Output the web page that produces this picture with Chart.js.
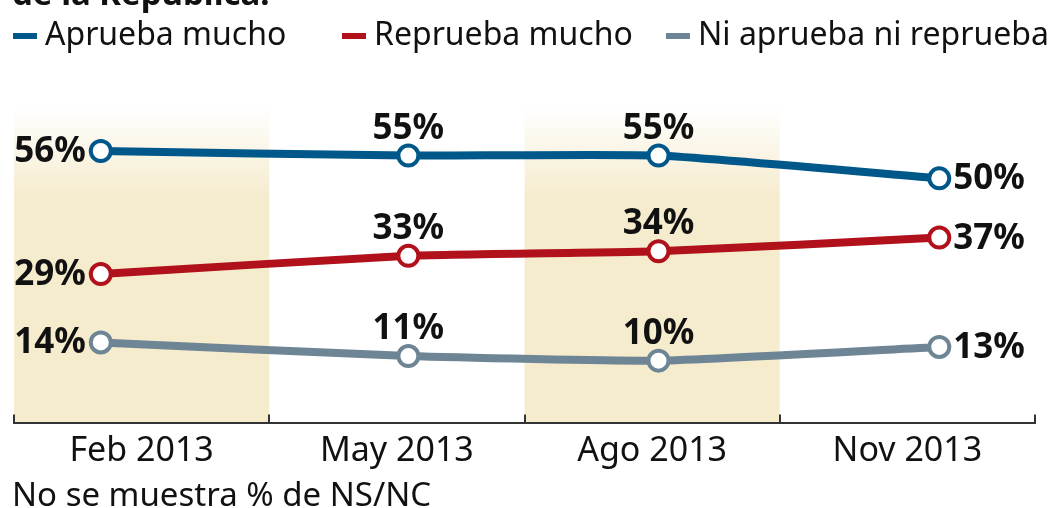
<!DOCTYPE html>
<html>
<head>
<meta charset="utf-8">
<script src="https://cdn.jsdelivr.net/npm/chart.js@4.4.0/dist/chart.umd.min.js"></script>
<style>
    body { margin: 0; background: #fff; font-family: "Noto Sans", sans-serif; color: #111; }
    #wrap { position: relative; width: 1051px; height: 508px; overflow: hidden; }
    #chart { position: absolute; left: 0; top: 0; }
    .title { position: absolute; left: 12px; top: -24px; font-weight: bold; font-size: 33px; line-height: 33px; white-space: nowrap; }
    .legend-item { position: absolute; top: 17px; font-size: 32px; line-height: 32px; white-space: nowrap; }
    .legend-item i { position: absolute; left: -32px; top: 16px; width: 24px; height: 6px; }
    .note { position: absolute; left: 12px; top: 477px; font-size: 33px; line-height: 33px; white-space: nowrap; }
</style>
</head>
<body>
<div id="wrap">
    <canvas id="chart" width="1051" height="508"></canvas>
    <div class="title">de la República.</div>
    <div class="legend-item" style="left:45px"><i style="background:#00578a"></i>Aprueba mucho</div>
    <div class="legend-item" style="left:374px"><i style="background:#b0111a"></i>Reprueba mucho</div>
    <div class="legend-item" style="left:698px"><i style="background:#6e8595"></i>Ni aprueba ni reprueba</div>
    <div class="note">No se muestra % de NS/NC</div>
</div>
<script>
// Periods shown on the x axis (each one is a band)
const periods = ['Feb 2013', 'May 2013', 'Ago 2013', 'Nov 2013'];
// Where each survey falls inside its period (in period units)
const surveyPos = [0.34, 1.545, 2.525, 3.625];

const apruebaMucho = [56, 55, 55, 50];
const repruebaMucho = [29, 33, 34, 37];
const niApruebaNiReprueba = [14, 11, 10, 13];

const seriesNames = ['Aprueba mucho', 'Reprueba mucho', 'Ni aprueba ni reprueba'];
const seriesColors = ['#00578a', '#b0111a', '#6e8595'];

function toPoints(values) {
    return values.map((v, i) => ({ x: surveyPos[i], y: v }));
}

// Shaded bands behind every other period, fading in from the top
const bandsPlugin = {
    id: 'bands',
    beforeDraw(chart) {
        const { ctx, chartArea, scales } = chart;
        const grad = ctx.createLinearGradient(0, chartArea.top, 0, chartArea.top + 95);
        grad.addColorStop(0, 'rgba(245,235,205,0)');
        grad.addColorStop(1, 'rgba(245,235,205,1)');
        ctx.save();
        ctx.fillStyle = grad;
        periods.forEach((p, i) => {
            if (i % 2 !== 0) return;
            const x0 = scales.x.getPixelForValue(i);
            const x1 = scales.x.getPixelForValue(i + 1);
            ctx.fillRect(x0, chartArea.top, x1 - x0, chartArea.bottom - chartArea.top);
        });
        ctx.restore();
    }
};

// Small tick marks at the period boundaries
const boundaryTicks = {
    id: 'boundaryTicks',
    afterDraw(chart) {
        const { ctx, chartArea, scales } = chart;
        ctx.save();
        ctx.strokeStyle = '#333';
        ctx.lineWidth = 2;
        for (let i = 0; i <= periods.length; i++) {
            const x = Math.round(scales.x.getPixelForValue(i));
            ctx.beginPath();
            ctx.moveTo(x, chartArea.bottom - 8);
            ctx.lineTo(x, chartArea.bottom);
            ctx.stroke();
        }
        ctx.restore();
    }
};

// Percent labels: first to the left, last to the right, others above
const valueLabels = {
    id: 'valueLabels',
    afterDatasetsDraw(chart) {
        const { ctx } = chart;
        ctx.save();
        ctx.font = 'bold 35px "Noto Sans"';
        ctx.fillStyle = '#111';
        ctx.textBaseline = 'middle';
        chart.data.datasets.forEach((ds, di) => {
            const meta = chart.getDatasetMeta(di);
            meta.data.forEach((pt, i) => {
                const text = ds.data[i].y + '%';
                if (i === 0) {
                    ctx.textAlign = 'right';
                    ctx.fillText(text, pt.x - 15, pt.y + 1);
                } else if (i === meta.data.length - 1) {
                    ctx.textAlign = 'left';
                    ctx.fillText(text, pt.x + 14, pt.y + 1);
                } else {
                    ctx.textAlign = 'center';
                    ctx.fillText(text, pt.x, pt.y - 27);
                }
            });
        });
        ctx.restore();
    }
};

const allSeries = [apruebaMucho, repruebaMucho, niApruebaNiReprueba];

new Chart(document.getElementById('chart'), {
    type: 'line',
    data: {
        datasets: allSeries.map((values, i) => ({
            label: seriesNames[i],
            data: toPoints(values),
            borderColor: seriesColors[i],
            borderWidth: 8,
            tension: 0.15,
            pointRadius: 10,
            pointBorderWidth: 4,
            pointBackgroundColor: '#fff',
            pointBorderColor: seriesColors[i],
            pointHoverRadius: 10
        }))
    },
    options: {
        responsive: false,
        animation: false,
        layout: { padding: { left: 12, right: 16, top: 105, bottom: 36 } },
        plugins: {
            legend: { display: false },
            tooltip: { enabled: false }
        },
        scales: {
            x: {
                type: 'linear',
                min: 0,
                max: periods.length,
                afterBuildTicks: scale => {
                    scale.ticks = periods.map((p, i) => ({ value: i + 0.5 }));
                },
                ticks: {
                    callback: (value, index) => periods[index],
                    font: { family: 'Noto Sans', size: 34, lineHeight: 1.1 },
                    color: '#111',
                    padding: 2,
                    autoSkip: false,
                    maxRotation: 0
                },
                grid: { display: false },
                border: { display: true, color: '#333', width: 2 }
            },
            y: {
                display: false,
                min: -3.6,
                max: 66.1
            }
        }
    },
    plugins: [bandsPlugin, boundaryTicks, valueLabels]
});
</script>
</body>
</html>
